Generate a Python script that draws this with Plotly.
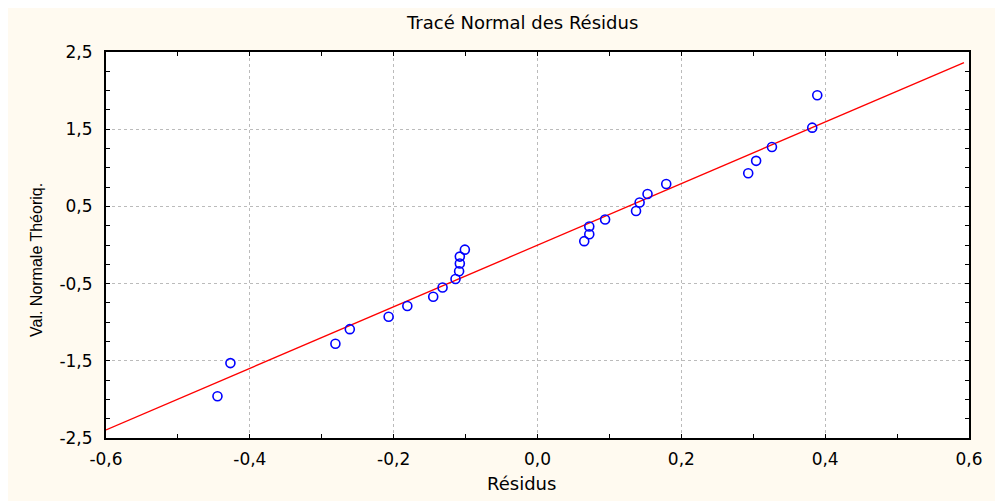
import plotly.graph_objects as go

# Data
residus = [-0.445, -0.427, -0.281, -0.261, -0.207, -0.181, -0.145, -0.132, -0.114,
           -0.109, -0.108, -0.108, -0.101, 0.065, 0.072, 0.072, 0.094, 0.137,
           0.142, 0.153, 0.179, 0.293, 0.304, 0.326, 0.382, 0.389]
val_normale = [-1.96, -1.53, -1.28, -1.09, -0.93, -0.79, -0.67, -0.55, -0.44,
               -0.34, -0.24, -0.15, -0.06, 0.05, 0.14, 0.24, 0.33, 0.44,
               0.55, 0.66, 0.79, 0.93, 1.09, 1.27, 1.52, 1.94]
line_x = [-0.6, 0.593]
line_y = [-2.395, 2.363]

x_ticks = [-0.6, -0.4, -0.2, 0.0, 0.2, 0.4, 0.6]
x_labels = ["-0,6", "-0,4", "-0,2", "0,0", "0,2", "0,4", "0,6"]
y_ticks = [-2.5, -1.5, -0.5, 0.5, 1.5, 2.5]
y_labels = ["-2,5", "-1,5", "-0,5", "0,5", "1,5", "2,5"]

title_text = "Tracé Normal des Résidus"
x_title = "Résidus"
y_title = "Val. Normale Théoriq."

# page places the figure at (8, 8) because of the body margin
OX, OY = 8, 8
W, H = 995, 493
L, R, T, B = 106 - OX, 34, 52 - OY, 63
pw, ph = W - L - R, H - T - B

def px_x(p):
    return (p - OX - L) / pw

def px_y(p):
    return (H - B - (p - OY)) / ph

cream = "#FFFAF0"
hfont = "DejaVu Sans"

fig = go.Figure()
fig.add_trace(go.Scatter(x=line_x, y=line_y, mode="lines",
                         line=dict(color="#FF0000", width=1.3),
                         hoverinfo="skip", showlegend=False))
fig.add_trace(go.Scatter(x=residus, y=val_normale, mode="markers",
                         marker=dict(symbol="circle-open", size=9,
                                     color="#0000FF", line=dict(width=1.6, color="#0000FF")),
                         showlegend=False))

axis_common = dict(
    showline=True, linecolor="black", linewidth=2, mirror="allticks",
    ticks="inside", ticklen=4, tickwidth=1.3, tickcolor="black",
    showgrid=True, gridcolor="#BBBBBB", gridwidth=1, griddash="dot",
    zeroline=False,
    tickfont=dict(family=hfont, size=17, color="black"),
)

fig.update_xaxes(range=[-0.6, 0.6], tickvals=x_ticks, ticktext=x_labels,
                 minor=dict(dtick=0.1, tick0=0, ticks="inside", ticklen=4,
                            tickwidth=1.3, tickcolor="black", showgrid=False),
                 ticklabelstandoff=5, **axis_common)
fig.update_yaxes(range=[-2.5, 2.5], tickvals=y_ticks, ticktext=y_labels,
                 minor=dict(dtick=0.25, tick0=0, ticks="inside", ticklen=4,
                            tickwidth=1.3, tickcolor="black", showgrid=False),
                 ticklabelstandoff=8, **axis_common)

fig.add_annotation(text=title_text, xref="paper", yref="paper",
                   x=px_x(522), y=px_y(23), showarrow=False,
                   xanchor="center", yanchor="middle",
                   font=dict(family=hfont, size=18, color="black"))
fig.add_annotation(text=x_title, xref="paper", yref="paper",
                   x=px_x(521), y=px_y(483), showarrow=False,
                   xanchor="center", yanchor="middle",
                   font=dict(family=hfont, size=18, color="black"))
fig.add_annotation(text=y_title, xref="paper", yref="paper",
                   x=px_x(36), y=px_y(260), showarrow=False, textangle=-90,
                   xanchor="center", yanchor="middle",
                   font=dict(family="Liberation Sans", size=16, color="black"))

fig.update_layout(
    width=W, height=H, margin=dict(l=L, r=R, t=T, b=B),
    paper_bgcolor=cream, plot_bgcolor="white",
    showlegend=False,
)

fig.write_html("out.html")
